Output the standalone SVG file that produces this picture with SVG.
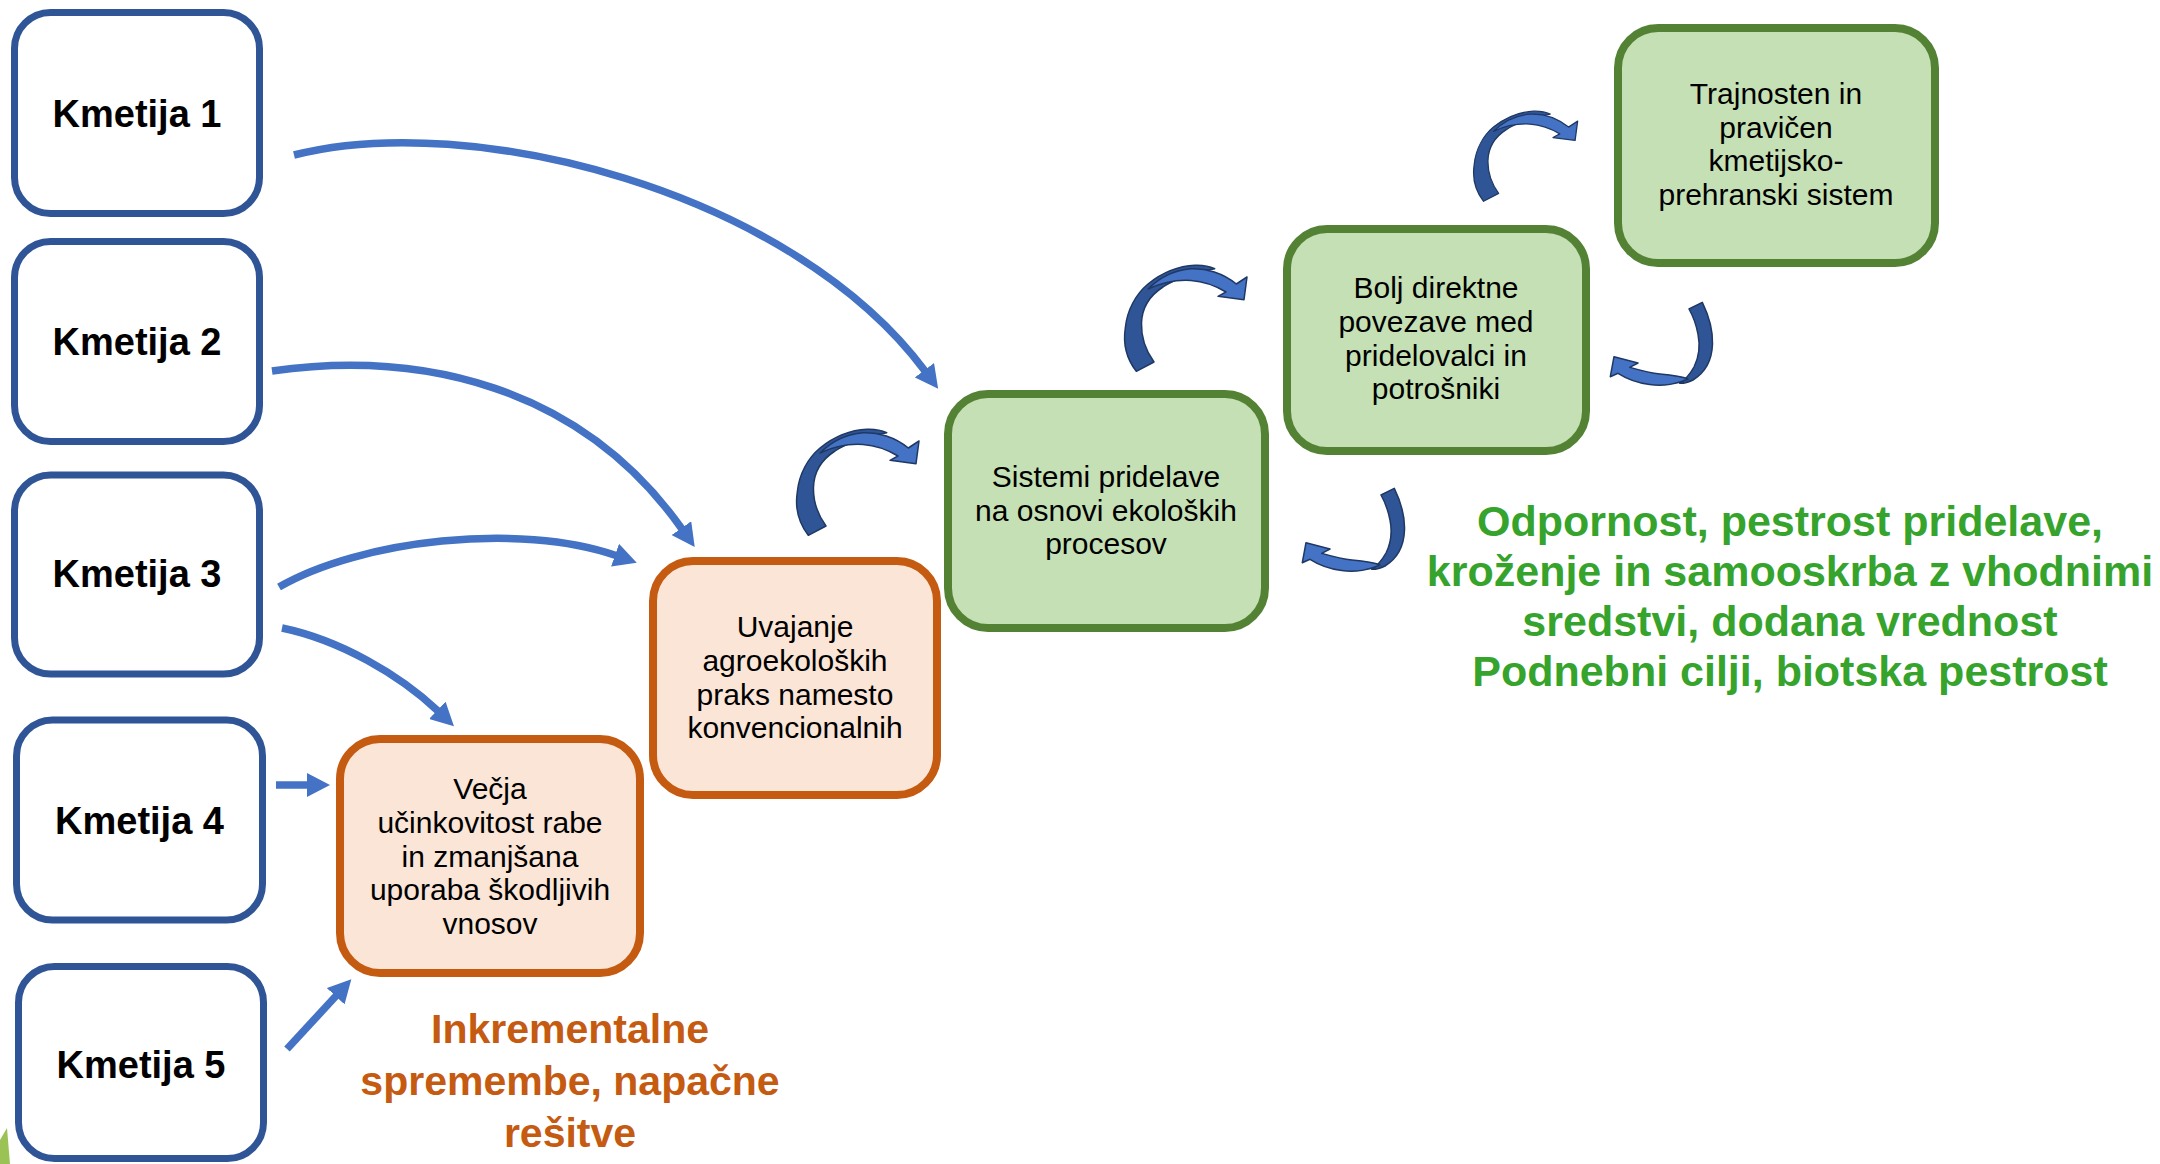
<svg xmlns="http://www.w3.org/2000/svg" width="2160" height="1164" viewBox="0 0 2160 1164">
<defs>
<style>
.farm rect{fill:#FFFFFF;stroke:#2F5597;stroke-width:7}
.orange rect{fill:#FBE5D6;stroke:#C55A11;stroke-width:8}
.green rect{fill:#C5E0B4;stroke:#548235;stroke-width:8}
text{font-family:'Liberation Sans',Arial,sans-serif;text-anchor:middle;fill:#000000}
.farm text{font-size:38px;font-weight:bold}
.lbl{font-size:30px}
.conn{fill:none;stroke:#4472C4;stroke-width:7.5;marker-end:url(#ah)}
.back{fill:#2F5597;stroke:#1F3864;stroke-width:1.5;stroke-linejoin:round}
.front{fill:#4472C4;stroke:#1F3864;stroke-width:1.5;stroke-linejoin:round}
.note-o{font-size:41px;font-weight:bold;fill:#C55A11}
.note-g{font-size:43px;font-weight:bold;fill:#36A32C}
</style>
<marker id="ah" markerUnits="userSpaceOnUse" viewBox="0 0 24 24" markerWidth="24" markerHeight="24" refX="1" refY="12" orient="auto">
<path d="M0,0 L23,12 L0,24 Z" fill="#4472C4"/>
</marker>
<g id="curveUp">
<path class="back" d="M18.3,113.3 C8,100 5,85 7.3,70 C9,52 18,36 30,26 C45,14 62,8 77,7.3 C85,7 92,8.5 96.7,10.7 C80,14 58,20 45,29 C31,38 24,50 23.5,65 C23,80 28,93 36,104 Z"/>
<path class="front" d="M30,31 C40,21 55,12 73,10.7 C88,10 105,15 118.3,26 L129,19 L126,41.7 L100,38.3 L108,34 C98,28 88,23.5 73,22.5 C58,21.5 43,25 30,31 Z"/>
</g>
<g id="curveBack">
<path class="back" d="M86,15 L99.3,8.3 C105,20 110,35 109.5,50 C109,65 103,78 90,86 C86,88 81,89.5 76.7,89.3 C82,86 87,80 91,73 C96,63 97,50 95,40 C93,30 90,22 86,15 Z"/>
<path class="front" d="M85,85 C75,90 60,92.5 46.7,90.5 C35,89 24,85 15,79.3 L7.3,82.7 L11,62.7 L35,69 L26.7,73.3 C36,76 46,79 57,80 C68,81 78,82 85,85 Z"/>
</g>
</defs>

<polygon points="0,1140 7,1128 10,1164 0,1164" fill="#9BC255"/>

<g id="connectors">
<path class="conn" d="M294,155 C470,110 790,190 925,371"/>
<path class="conn" d="M272,371 C420,350 580,385 682,529"/>
<path class="conn" d="M279,587 C360,540 520,522 616,555.5"/>
<path class="conn" d="M282,628 C340,640 400,675 438,711"/>
<path class="conn" d="M276,785 L308,785"/>
<path class="conn" d="M287,1049 L336.4,995.5"/>
<use href="#curveUp" transform="translate(790,422)"/>
<use href="#curveUp" transform="translate(1118,258)"/>
<use href="#curveUp" transform="translate(1468,105) scale(0.85)"/>
<use href="#curveBack" transform="translate(1295,480)"/>
<use href="#curveBack" transform="translate(1603,294)"/>
</g>

<g id="kmetija1" class="farm">
<rect x="14.5" y="12.5" width="245" height="201" rx="36"/>
<text x="137" y="127">Kmetija 1</text>
</g>
<g id="kmetija2" class="farm">
<rect x="14.5" y="241.5" width="245" height="200" rx="36"/>
<text x="137" y="355">Kmetija 2</text>
</g>
<g id="kmetija3" class="farm">
<rect x="14.5" y="475" width="245" height="199" rx="36"/>
<text x="137" y="587">Kmetija 3</text>
</g>
<g id="kmetija4" class="farm">
<rect x="16.5" y="720" width="246" height="200" rx="36"/>
<text x="139.5" y="834">Kmetija 4</text>
</g>
<g id="kmetija5" class="farm">
<rect x="18.5" y="966.5" width="245" height="192" rx="36"/>
<text x="141" y="1078">Kmetija 5</text>
</g>

<g id="vecja" class="orange">
<rect x="340" y="739" width="300" height="234" rx="40"/>
<text class="lbl" x="490" y="799">Večja</text>
<text class="lbl" x="490" y="833">učinkovitost rabe</text>
<text class="lbl" x="490" y="867">in zmanjšana</text>
<text class="lbl" x="490" y="900">uporaba škodljivih</text>
<text class="lbl" x="490" y="934">vnosov</text>
</g>
<g id="uvajanje" class="orange">
<rect x="653" y="561" width="284" height="234" rx="40"/>
<text class="lbl" x="795" y="637">Uvajanje</text>
<text class="lbl" x="795" y="671">agroekoloških</text>
<text class="lbl" x="795" y="705">praks namesto</text>
<text class="lbl" x="795" y="738">konvencionalnih</text>
</g>
<g id="sistemi" class="green">
<rect x="948" y="394" width="317" height="234" rx="40"/>
<text class="lbl" x="1106" y="487">Sistemi pridelave</text>
<text class="lbl" x="1106" y="521">na osnovi ekoloških</text>
<text class="lbl" x="1106" y="554">procesov</text>
</g>
<g id="bolj" class="green">
<rect x="1287" y="229" width="299" height="222" rx="40"/>
<text class="lbl" x="1436" y="298">Bolj direktne</text>
<text class="lbl" x="1436" y="332">povezave med</text>
<text class="lbl" x="1436" y="366">pridelovalci in</text>
<text class="lbl" x="1436" y="399">potrošniki</text>
</g>
<g id="trajnosten" class="green">
<rect x="1618" y="28" width="317" height="235" rx="40"/>
<text class="lbl" x="1776" y="104">Trajnosten in</text>
<text class="lbl" x="1776" y="137.5">pravičen</text>
<text class="lbl" x="1776" y="171">kmetijsko-</text>
<text class="lbl" x="1776" y="204.5">prehranski sistem</text>
</g>

<g id="note-incremental">
<text class="note-o" x="570" y="1043">Inkrementalne</text>
<text class="note-o" x="570" y="1095">spremembe, napačne</text>
<text class="note-o" x="570" y="1147">rešitve</text>
</g>
<g id="note-transform">
<text class="note-g" x="1790" y="536">Odpornost, pestrost pridelave,</text>
<text class="note-g" x="1790" y="586">kroženje in samooskrba z vhodnimi</text>
<text class="note-g" x="1790" y="636">sredstvi, dodana vrednost</text>
<text class="note-g" x="1790" y="686">Podnebni cilji, biotska pestrost</text>
</g>
</svg>
